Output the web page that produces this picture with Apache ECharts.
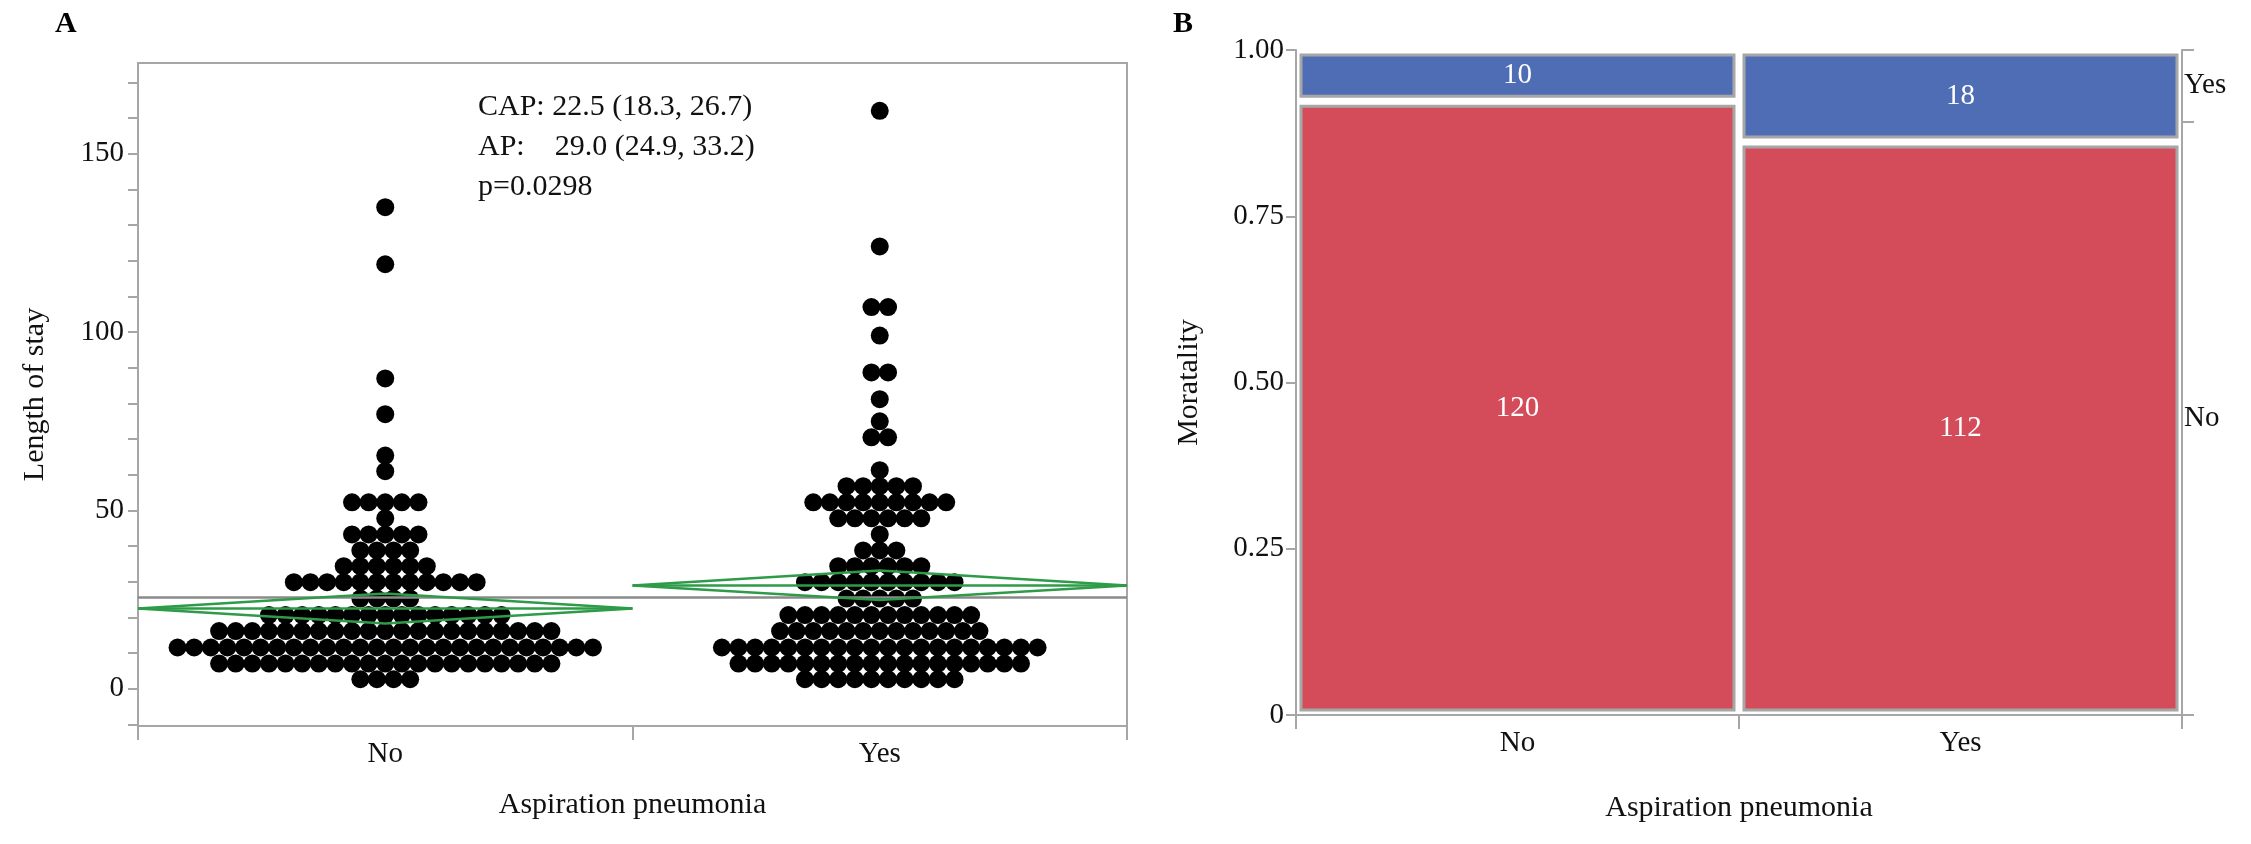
<!DOCTYPE html>
<html><head><meta charset="utf-8">
<script src="https://cdn.jsdelivr.net/npm/echarts@6/dist/echarts.min.js"></script>
<style>html,body{margin:0;padding:0;background:#fff}#c{width:2251px;height:844px}</style>
</head><body><div id="c"></div>
<script>
// Panel A: beeswarm rows (binned length of stay value, number of dots)
const noRowValues  = [2.7,7.1,11.6,16.2,20.7,25.3,29.9,34.4,38.8,43.3,47.8,52.3,61,65.4,77,87,119,135];
const noRowCounts  = [4,21,26,21,15,4,12,6,4,5,1,5,1,1,1,1,1,1];
const yesRowValues = [2.7,7.1,11.6,16.2,20.7,25.3,29.9,34.4,38.8,43.3,47.8,52.3,56.8,61.3,70.5,75,81.2,88.7,99,107,124,162];
const yesRowCounts = [10,18,20,13,12,5,10,6,3,1,6,9,5,1,2,1,1,2,1,2,1,1];
const groupMeans = [22.5, 29.0];
const groupLower = [18.3, 24.9];
const groupUpper = [26.7, 33.2];
const grandMean = 25.8;
const annotation = ['CAP: 22.5 (18.3, 26.7)', 'AP:    29.0 (24.9, 33.2)', 'p=0.0298'];
const groups = ['No', 'Yes'];
// Panel B: mosaic counts
const mortNo  = [120, 112];
const mortYes = [10, 18];
const overallYesShare = 28 / 260;

const FONT = 'Liberation Serif';
const GREY = '#a6a6a6';
const spacing = 0.0336;

function swarm(vals, counts, center) {
  const pts = [];
  vals.forEach((v, r) => {
    const n = counts[r];
    for (let i = 0; i < n; i++) pts.push([center + (i - (n - 1) / 2) * spacing, v]);
  });
  return pts;
}
const dots = swarm(noRowValues, noRowCounts, 0.5).concat(swarm(yesRowValues, yesRowCounts, 1.5));

const diamondSeries = [];
groups.forEach((g, k) => {
  diamondSeries.push({
    type: 'line', xAxisIndex: 0, yAxisIndex: 0, symbol: 'none', silent: true, z: 5,
    lineStyle: {color: '#2e9b48', width: 2.5},
    data: [[k, groupMeans[k]], [k + 0.5, groupUpper[k]], [k + 1, groupMeans[k]], [k + 0.5, groupLower[k]], [k, groupMeans[k]]]
  });
  diamondSeries.push({
    type: 'line', xAxisIndex: 0, yAxisIndex: 0, symbol: 'none', silent: true, z: 5,
    lineStyle: {color: '#2e9b48', width: 2.5},
    data: [[k, groupMeans[k]], [k + 1, groupMeans[k]]]
  });
});

const tick10 = []; for (let v = -10; v <= 170; v += 10) tick10.push(v);

// mosaic cells: [col, y0, y1, count, colorIdx]
const cells = [];
groups.forEach((g, k) => {
  const tot = mortNo[k] + mortYes[k];
  cells.push([k, 0, mortNo[k] / tot, mortNo[k], 0]);
  cells.push([k, mortNo[k] / tot, 1, mortYes[k], 1]);
});
const cellColors = ['#d44b5a', '#4f6db5'];

const chart = echarts.init(document.getElementById('c'));
chart.setOption({
  animation: false,
  textStyle: {fontFamily: FONT},
  grid: [
    {left: 138, right: 1124, top: 63, bottom: 118, show: true, borderColor: GREY, borderWidth: 2, backgroundColor: 'transparent'},
    {left: 1296, right: 69, top: 50, bottom: 129}
  ],
  title: [
    {text: 'A', left: 50, top: 4, textStyle: {fontFamily: FONT, fontSize: 30, fontWeight: 'bold', color: '#000'}},
    {text: 'B', left: 1168, top: 4, textStyle: {fontFamily: FONT, fontSize: 30, fontWeight: 'bold', color: '#000'}}
  ],
  xAxis: [
    {type: 'value', gridIndex: 0, min: 0, max: 2, interval: 1,
     axisLine: {show: true, onZero: false, lineStyle: {color: GREY, width: 2}},
     axisTick: {show: true, length: 14, lineStyle: {color: GREY, width: 2}},
     axisLabel: {show: false}, splitLine: {show: false}},
    {type: 'category', gridIndex: 0, data: groups, position: 'bottom',
     axisLine: {show: false, onZero: false}, axisTick: {show: false},
     axisLabel: {fontFamily: FONT, fontSize: 29, color: '#111', margin: 14},
     name: 'Aspiration pneumonia', nameLocation: 'middle', nameGap: 64,
     nameTextStyle: {fontFamily: FONT, fontSize: 30, color: '#111'}},
    {type: 'category', gridIndex: 1, data: groups,
     axisLine: {show: true, onZero: false, lineStyle: {color: GREY, width: 2}},
     axisTick: {show: true, length: 14, lineStyle: {color: GREY, width: 2}},
     axisLabel: {fontFamily: FONT, fontSize: 29, color: '#111', margin: 14},
     name: 'Aspiration pneumonia', nameLocation: 'middle', nameGap: 78,
     nameTextStyle: {fontFamily: FONT, fontSize: 30, color: '#111'}}
  ],
  yAxis: [
    {type: 'value', gridIndex: 0, min: -10.4, max: 175.4,
     axisLine: {show: true, onZero: false, lineStyle: {color: GREY, width: 2}},
     axisTick: {show: true, length: 10, customValues: tick10, lineStyle: {color: GREY, width: 2}},
     axisLabel: {customValues: [0, 50, 100, 150], fontFamily: FONT, fontSize: 29, color: '#111', margin: 14},
     splitLine: {show: false},
     name: 'Length of stay', nameLocation: 'middle', nameGap: 88,
     nameTextStyle: {fontFamily: FONT, fontSize: 30, color: '#111'}},
    {type: 'value', gridIndex: 1, min: 0, max: 1, interval: 0.25,
     axisLine: {show: true, onZero: false, lineStyle: {color: GREY, width: 2}},
     axisTick: {show: true, length: 10, lineStyle: {color: GREY, width: 2}},
     axisLabel: {fontFamily: FONT, fontSize: 29, color: '#111', margin: 12,
       formatter: v => v === 0 ? '0' : v.toFixed(2)},
     splitLine: {show: false},
     name: 'Moratality', nameLocation: 'middle', nameGap: 92,
     nameTextStyle: {fontFamily: FONT, fontSize: 30, color: '#111'}},
    {type: 'value', gridIndex: 1, min: 0, max: 1, position: 'right',
     axisLine: {show: true, onZero: false, lineStyle: {color: GREY, width: 2}},
     axisTick: {show: true, length: 12, customValues: [0, 1 - overallYesShare, 1], lineStyle: {color: GREY, width: 2}},
     axisLabel: {customValues: [(1 - overallYesShare) / 2, 1 - overallYesShare / 2], fontFamily: FONT, fontSize: 29, color: '#111', margin: 2,
       formatter: v => v > 0.8 ? 'Yes' : 'No'},
     splitLine: {show: false}}
  ],
  series: [
    {type: 'scatter', xAxisIndex: 0, yAxisIndex: 0, symbolSize: 18, silent: true, z: 3,
     itemStyle: {color: '#000', opacity: 1}, data: dots,
     markLine: {silent: true, symbol: 'none', label: {show: false},
       lineStyle: {color: '#8a8a8a', width: 2.5, type: 'solid'}, data: [{yAxis: grandMean}]}},
    ...diamondSeries,
    {type: 'custom', xAxisIndex: 2, yAxisIndex: 1, silent: true, data: cells,
     renderItem: (params, api) => {
       const c = api.value(0);
       const top = api.coord([c, api.value(2)]);
       const bot = api.coord([c, api.value(1)]);
       const bw = api.size([1, 0])[0];
       const x0 = top[0] - bw / 2 + 5, x1 = top[0] + bw / 2 - 5;
       const y0 = top[1] + 5, y1 = bot[1] - 5;
       return {type: 'group', children: [
         {type: 'rect', shape: {x: x0, y: y0, width: x1 - x0, height: y1 - y0},
          style: {fill: cellColors[api.value(4)], stroke: GREY, lineWidth: 3}},
         {type: 'text', x: (x0 + x1) / 2, y: (y0 + y1) / 2,
          style: {text: String(api.value(3)), fill: '#fff', font: '29px "Liberation Serif"', align: 'center', verticalAlign: 'middle'}}
       ]};
     }}
  ],
  graphic: annotation.map((t, i) => ({
    type: 'text', left: 478, top: 92 + i * 40,
    style: {text: t, font: '30px "Liberation Serif"', fill: '#111'}
  }))
});
</script></body></html>
